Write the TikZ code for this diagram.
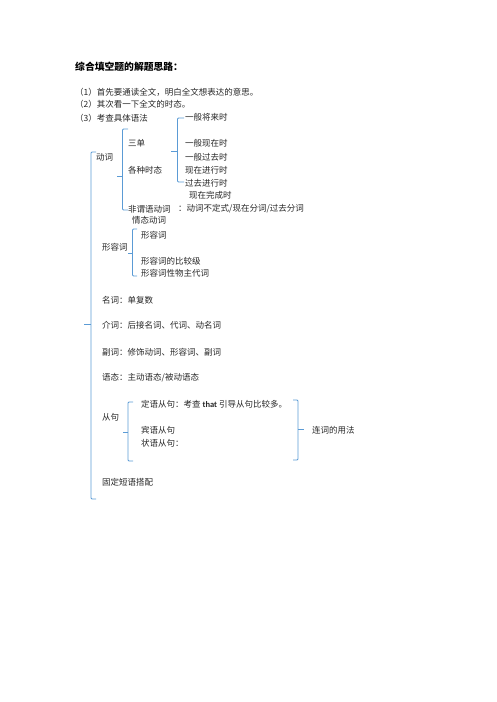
\documentclass[tikz,border=0pt]{standalone}
\usepackage{fontspec}
\setmainfont{Noto Sans CJK SC}
\newfontfamily\latinfont{Carlito}
\usetikzlibrary{positioning}
\definecolor{bracecol}{HTML}{5B9BD5}
\tikzset{
  txt/.style={ % plain line of text
    anchor=west, inner sep=0pt, text=black!85,
    font=\fontsize{8.5}{10}\selectfont
  },
  head/.style={ % bold heading
    anchor=west, inner sep=0pt, text=black,
    font=\bfseries\fontsize{9.8}{11}\selectfont
  },
  brace/.style={ % blue bracket of the outline
    draw=bracecol, line width=0.9pt, rounded corners=1pt
  }
}

\begin{document}
\begin{tikzpicture}[x=1pt, y=-1pt]
  \useasboundingbox (0,0) rectangle (496,702);

  \node[head] (title) at (75,67) {综合填空题的解题思路：};
  \node[txt] (step_a) at (75,92) {（1）首先要通读全文，明白全文想表达的意思。};
  \node[txt] (step_b) at (75,104) {（2）其次看一下全文的时态。};
  \node[txt] (step_c) at (75,118) {（3）考查具体语法};

  % verbs
  \node[txt] (verb) at (96,157) {动词};
  \node[txt] (third) at (128,143) {三单};
  \node[txt] (tenses) at (128,170) {各种时态};
  \node[txt] (nonfin) at (128,209) {非谓语动词};
  \node[txt] (nonfin_txt) at (178,209) {：动词不定式/现在分词/过去分词};
  \node[txt] (modal) at (132,220) {情态动词};

  \node[txt] (t_fut) at (185,117) {一般将来时};
  \node[txt] (t_pres) at (185,143) {一般现在时};
  \node[txt] (t_past) at (185,157) {一般过去时};
  \node[txt] (t_prog) at (185,170) {现在进行时};
  \node[txt] (t_pprog) at (185,183) {过去进行时};
  \node[txt] (t_perf) at (189,195) {现在完成时};

  % adjectives
  \node[txt] (adj) at (102,247) {形容词};
  \node[txt] (adj_a) at (141,235) {形容词};
  \node[txt] (adj_b) at (141,261) {形容词的比较级};
  \node[txt] (adj_c) at (141,273) {形容词性物主代词};

  \node[txt] (noun) at (102,300) {名词：单复数};
  \node[txt] (prep) at (102,325) {介词：后接名词、代词、动名词};
  \node[txt] (adv) at (102,352) {副词：修饰动词、形容词、副词};
  \node[txt] (voice) at (102,378) {语态：主动语态/被动语态};

  % clauses
  \node[txt] (clause) at (102,417) {从句};
  \node[txt] (cl_attr) at (141,404) {定语从句：考查 {\latinfont\bfseries that} 引导从句比较多。};
  \node[txt] (cl_obj) at (141,430) {宾语从句};
  \node[txt] (cl_advb) at (141,443) {状语从句：};
  \node[txt] (conj) at (312,430) {连词的用法};

  \node[txt] (phrase) at (102,482) {固定短语搭配};

  % brackets
  \draw[brace] (96,152) -- (91,152) -- (91,499) -- (96,499);
  \draw[brace] (91,324) -- (84,324);

  \draw[brace] (128,129) -- (122.5,129) -- (122.5,210) -- (128,210);
  \draw[brace] (122.5,176) -- (117,176);

  \draw[brace] (184,118) -- (177.5,118) -- (177.5,182) -- (184,182);
  \draw[brace] (177.5,151) -- (171,151);

  \draw[brace] (137,229) -- (132.5,229) -- (132.5,276) -- (137,276);
  \draw[brace] (132.5,253) -- (128,253);

  \draw[brace] (133,402) -- (128,402) -- (128,461) -- (133,461);
  \draw[brace] (128,432) -- (122.5,432);

  \draw[brace] (293,400) -- (298,400) -- (298,460) -- (293,460);
  \draw[brace] (298,429) -- (304,429);
\end{tikzpicture}
\end{document}
